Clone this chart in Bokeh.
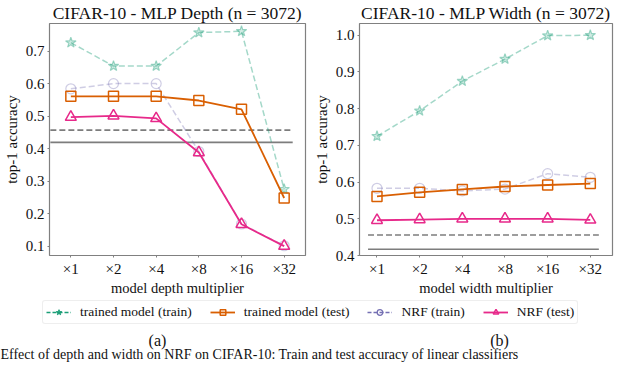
from bokeh.plotting import figure
from bokeh.layouts import column, row
from bokeh.models import (Range1d, FixedTicker, Legend, LegendItem, Label,
                          ColumnDataSource, PrintfTickFormatter)
from bokeh.embed import file_html
from bokeh.resources import INLINE

# ---------------- data ----------------
multipliers = ["\u00d71", "\u00d72", "\u00d74", "\u00d78", "\u00d716", "\u00d732"]

depth_trained_train = [0.726, 0.654, 0.654, 0.757, 0.761, 0.275]
depth_trained_test = [0.561, 0.561, 0.561, 0.548, 0.521, 0.248]
depth_nrf_train = [0.584, 0.600, 0.600, 0.391, 0.168, 0.101]
depth_nrf_test = [0.497, 0.501, 0.493, 0.388, 0.167, 0.100]
depth_baseline_dashed = 0.457
depth_baseline_solid = 0.419

width_trained_train = [0.725, 0.794, 0.875, 0.935, 0.999, 1.000]
width_trained_test = [0.561, 0.572, 0.580, 0.588, 0.592, 0.596]
width_nrf_train = [0.583, 0.583, 0.576, 0.581, 0.623, 0.613]
width_nrf_test = [0.496, 0.498, 0.500, 0.500, 0.500, 0.497]
width_baseline_dashed = 0.456
width_baseline_solid = 0.417

depth_yticks = [0.1, 0.2, 0.3, 0.4, 0.5, 0.6, 0.7]
width_yticks = [0.4, 0.5, 0.6, 0.7, 0.8, 0.9, 1.0]

series_labels = ["trained model (train)", "trained model (test)", "NRF (train)", "NRF (test)"]
caption = "Effect of depth and width on NRF on CIFAR-10: Train and test accuracy of linear classifiers"

# ---------------- style ----------------
FONT = "Liberation Serif"
GREEN = "#1b9e77"
ORANGE = "#d95f02"
PURPLE = "#7570b3"
PINK = "#e7298a"
GRAY = "#666666"
FRAME = "#808080"
TXT = "#111111"


def make_panel(title, xlabel, yticks, yr, xr, tt, te, nt, ne, bd, bs, hx, w, rb):
    p = figure(width=w, height=298,
               x_range=Range1d(*xr), y_range=Range1d(*yr),
               output_backend="svg", toolbar_location=None,
               min_border_left=37, min_border_right=rb,
               min_border_top=0, min_border_bottom=36)
    p.title.text = title
    p.title.text_font = FONT
    p.title.text_font_size = "17.5px"
    p.title.text_font_style = "normal"
    p.title.text_color = TXT
    p.title.align = "center"
    p.title.standoff = 1
    p.title.offset = 0
    p.grid.visible = False
    p.outline_line_color = FRAME
    p.outline_line_width = 1.2
    p.outline_line_alpha = 1
    x = list(range(len(multipliers)))

    # baselines
    p.line(hx, [bd, bd], line_color=GRAY, line_width=1.6, line_dash="6 3", alpha=0.85)
    p.line(hx, [bs, bs], line_color=GRAY, line_width=1.6, alpha=0.85)

    # trained train
    p.line(x, tt, line_color=GREEN, line_width=1.5, line_dash="6 3", alpha=0.4)
    p.scatter(x, tt, marker="star", size=11, line_color=GREEN, fill_color=GREEN,
              fill_alpha=0.2, line_alpha=0.4, line_width=1.2)
    # NRF train
    p.line(x, nt, line_color=PURPLE, line_width=1.5, line_dash="6 3", alpha=0.35)
    p.scatter(x, nt, marker="circle", size=10, line_color=PURPLE, fill_alpha=0,
              line_alpha=0.35, line_width=1.2)
    # trained test
    p.line(x, te, line_color=ORANGE, line_width=1.8)
    p.scatter(x, te, marker="square", size=10, line_color=ORANGE, fill_alpha=0,
              line_width=1.5)
    # NRF test
    p.line(x, ne, line_color=PINK, line_width=1.8)
    p.scatter(x, ne, marker="triangle", size=11, line_color=PINK, fill_alpha=0,
              line_width=1.5)

    for ax in (p.xaxis[0], p.yaxis[0]):
        ax.axis_line_color = None
        ax.major_tick_line_color = FRAME
        ax.major_tick_out = 2
        ax.major_tick_in = 0
        ax.minor_tick_line_color = None
        ax.major_label_text_font = FONT
        ax.major_label_text_font_size = "15px"
        ax.major_label_text_color = TXT
        ax.axis_label_text_font = FONT
        ax.axis_label_text_font_style = "normal"
        ax.axis_label_text_color = TXT
        ax.major_label_standoff = 3
    p.xaxis.ticker = FixedTicker(ticks=x)
    p.xaxis.major_label_overrides = {i: m for i, m in enumerate(multipliers)}
    p.xaxis.axis_label = xlabel
    p.xaxis.axis_label_text_font_size = "14.5px"
    p.xaxis.axis_label_standoff = 0
    p.yaxis.ticker = FixedTicker(ticks=yticks)
    p.yaxis.formatter = PrintfTickFormatter(format="%.1f")
    p.yaxis.axis_label = "top-1 accuracy"
    p.yaxis.axis_label_text_font_size = "15px"
    p.yaxis.axis_label_standoff = 3
    return p


p1 = make_panel("CIFAR-10 - MLP Depth (n = 3072)", "model depth multiplier",
                depth_yticks, (0.071, 0.785), (-0.5, 5.5),
                depth_trained_train, depth_trained_test, depth_nrf_train, depth_nrf_test,
                depth_baseline_dashed, depth_baseline_solid, [-0.48, 5.2], 310, 5)
p2 = make_panel("CIFAR-10 - MLP Width (n = 3072)", "model width multiplier",
                width_yticks, (0.4, 1.032), (-0.41, 5.52),
                width_trained_train, width_trained_test, width_nrf_train, width_nrf_test,
                width_baseline_dashed, width_baseline_solid, [-0.21, 5.2], 314, 12)

# ---------------- legend + captions ----------------
p3 = figure(width=624, height=64, x_range=Range1d(0, 624), y_range=Range1d(0, 64),
            output_backend="svg", toolbar_location=None,
            min_border=0, outline_line_color=None)
p3.axis.visible = False
p3.grid.visible = False
offscreen = ColumnDataSource(data=dict(x=[-1000], y=[-1000]))
r_tt_l = p3.line("x", "y", source=offscreen, line_color=GREEN, line_width=1.5, line_dash="4 2")
r_tt_m = p3.scatter("x", "y", source=offscreen, marker="star", size=11, line_color=GREEN, fill_color=GREEN)
r_te_l = p3.line("x", "y", source=offscreen, line_color=ORANGE, line_width=1.8)
r_te_m = p3.scatter("x", "y", source=offscreen, marker="square", size=9, line_color=ORANGE, fill_alpha=0, line_width=1.5)
r_nt_l = p3.line("x", "y", source=offscreen, line_color=PURPLE, line_width=1.5, line_dash="4 2")
r_nt_m = p3.scatter("x", "y", source=offscreen, marker="circle", size=9, line_color=PURPLE, fill_alpha=0, line_width=1.3)
r_ne_l = p3.line("x", "y", source=offscreen, line_color=PINK, line_width=1.8)
r_ne_m = p3.scatter("x", "y", source=offscreen, marker="triangle", size=10, line_color=PINK, fill_alpha=0, line_width=1.5)

legend = Legend(items=[
    LegendItem(label=series_labels[0], renderers=[r_tt_l, r_tt_m]),
    LegendItem(label=series_labels[1], renderers=[r_te_l, r_te_m]),
    LegendItem(label=series_labels[2], renderers=[r_nt_l, r_nt_m]),
    LegendItem(label=series_labels[3], renderers=[r_ne_l, r_ne_m]),
], orientation="horizontal", location=(42, 38))
legend.label_text_font = FONT
legend.label_text_font_size = "13.5px"
legend.label_text_color = TXT
legend.glyph_width = 25
legend.glyph_height = 14
legend.label_standoff = 9
legend.spacing = 18
legend.padding = 3
legend.margin = 0
legend.border_line_color = "#dddddd"
legend.border_line_width = 1
legend.border_radius = 3
legend.label_height = 13
p3.add_layout(legend)

for txt, xx in (("(a)", 157), ("(b)", 499)):
    p3.add_layout(Label(x=xx, y=22, text=txt, text_font=FONT, text_font_size="16px",
                        text_align="center", text_baseline="middle", text_color=TXT))
p3.add_layout(Label(x=0, y=8, text=caption,
                    text_font=FONT, text_font_size="14px", text_align="left",
                    text_baseline="middle", text_color=TXT))

layout = column(row(p1, p2, spacing=0), p3, spacing=0)
open("out.html", "w").write(file_html(layout, INLINE))
